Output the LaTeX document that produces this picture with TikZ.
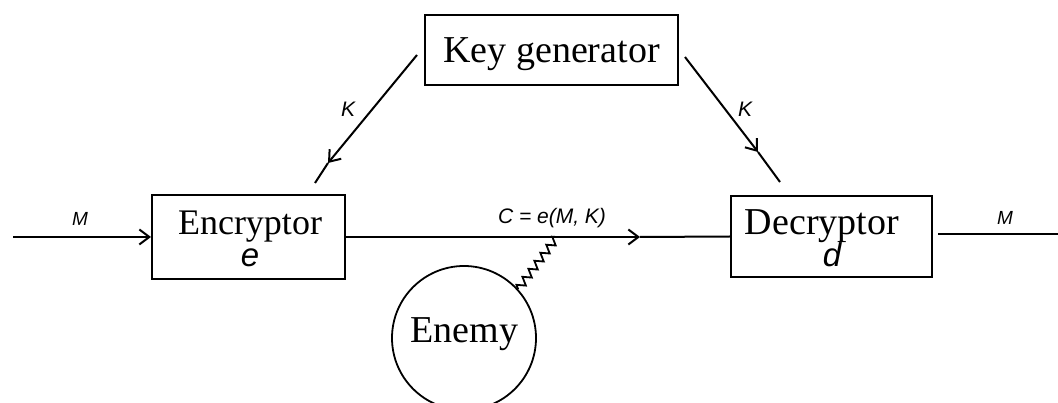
\documentclass[tikz,border=0pt]{standalone}
\usepackage{fontspec}
\setmainfont{Liberation Serif}
\newfontfamily\labelfont{Liberation Sans}
\usetikzlibrary{arrows.meta,decorations.pathmorphing}

\tikzset{
  blk/.style={draw, line width=2pt, rectangle, inner sep=0pt},
  wire/.style={line width=2pt},
  arr/.style={wire, -{Straight Barb[length=10pt,width=15pt,line width=2pt]}},
  title/.style={inner sep=0pt, anchor=base, font=\fontsize{36}{36}\selectfont},
  sym/.style={inner sep=0pt, anchor=base, font=\labelfont\itshape\fontsize{33}{33}\selectfont},
  lbl/.style={inner sep=0pt, anchor=base, font=\labelfont\itshape\fontsize{19}{19}\selectfont},
  wavy/.style={line width=1.8pt, decorate, decoration={zigzag, segment length=10pt, amplitude=4pt}}
}

\begin{document}
\begin{tikzpicture}[x=1pt, y=-1pt]
  \useasboundingbox (0,0) rectangle (1058,403);
  \fill[white] (0,0) rectangle (1058,403);

  % boxes
  \node[blk, minimum width=253pt, minimum height=70pt] (kg) at (551.5,50) {};
  \node[title, font=\fontsize{38}{38}\selectfont] (kgT) at (551.5,63) {Key generator};

  \node[blk, minimum width=193pt, minimum height=84pt] (enc) at (248.5,237) {};
  \node[title] (encT) at (250,235) {Encryptor};
  \node[sym] (encS) at (250,267) {e};

  \node[blk, minimum width=201pt, minimum height=81pt] (dec) at (831.5,236.5) {};
  \node[title, font=\fontsize{38}{38}\selectfont] (decT) at (822,235) {Decryptor};
  \node[sym] (decS) at (832,267) {d};

  \node[draw, circle, line width=1.8pt, minimum size=144pt, inner sep=0pt] (enemy) at (464,338) {};
  \node[title, font=\fontsize{38}{38}\selectfont] (enemyT) at (464.5,343) {Enemy};

  % free ends and mid-line arrow points
  \coordinate (in) at (13,237);
  \coordinate (out) at (1058,234);
  \coordinate (cmid) at (640,237);
  \coordinate (tap) at (557,237);
  \coordinate (kL0) at (417,55);
  \coordinate (kL1) at (328,163);
  \coordinate (kL2) at (315,183);
  \coordinate (kR0) at (685,57);
  \coordinate (kR1) at (758,152);
  \coordinate (kR2) at (780,182);

  % message path
  \draw[arr] (in) -- (enc.west);
  \draw[arr] (enc.east) -- (cmid);
  \draw[wire] (cmid) -- (dec.west);
  \draw[wire, shorten <=5pt] (dec.east |- out) -- (out);

  % key distribution
  \draw[arr] (kL0) -- (kL1);
  \draw[wire] (kL1) -- (kL2);
  \draw[arr] (kR0) -- (kR1);
  \draw[wire] (kR1) -- (kR2);

  % wiretap
  \draw[wavy] (enemy.42) -- (tap);

  % labels
  \node[lbl] (mIn) at (80,226) {M};
  \node[lbl] (mOut) at (1005,225) {M};
  \node[lbl, font=\labelfont\itshape\fontsize{21}{21}\selectfont] (kLlbl) at (348,117) {K};
  \node[lbl, font=\labelfont\itshape\fontsize{21}{21}\selectfont] (kRlbl) at (745,117) {K};
  \node[lbl, font=\labelfont\itshape\fontsize{21}{21}\selectfont] (cLbl) at (552,224) {C = e(M, K)};
\end{tikzpicture}
\end{document}
